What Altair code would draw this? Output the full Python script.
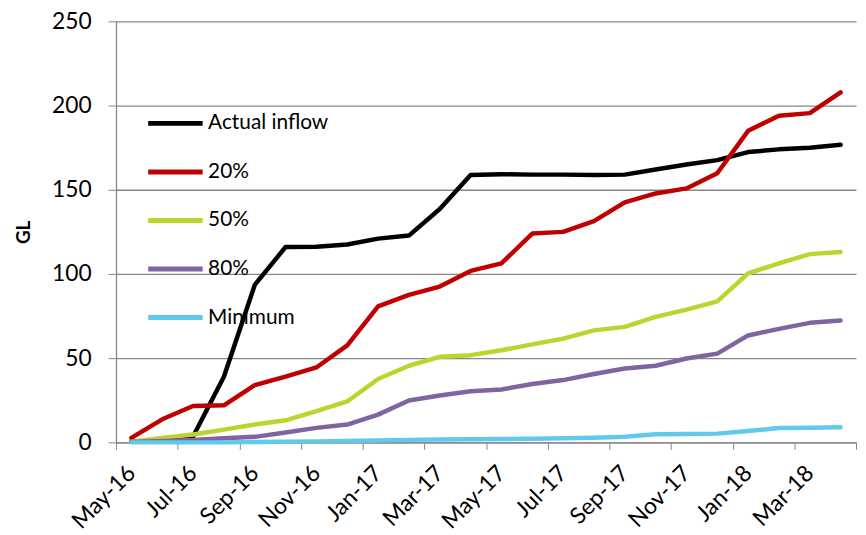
import altair as alt
import pandas as pd

months = ["May-16","Jun-16","Jul-16","Aug-16","Sep-16","Oct-16","Nov-16","Dec-16",
          "Jan-17","Feb-17","Mar-17","Apr-17","May-17","Jun-17","Jul-17","Aug-17",
          "Sep-17","Oct-17","Nov-17","Dec-17","Jan-18","Feb-18","Mar-18","Apr-18"]
tick_labels = ["May-16","Jul-16","Sep-16","Nov-16","Jan-17","Mar-17",
               "May-17","Jul-17","Sep-17","Nov-17","Jan-18","Mar-18"]

actual = [0.5, 1.0, 3.5, 39, 93.5, 116, 116.2, 117.5, 121, 122.8, 138.6, 158.8,
          159.2, 159, 159, 158.8, 159, 162, 165, 167.6, 172.4, 174, 175, 176.7]
p20 = [2.7, 13.7, 21.6, 22, 34, 39, 44.5, 57.6, 80.8, 87.6, 92.5, 101.8,
       106.3, 124, 125, 131.4, 142.5, 147.8, 150.8, 159.8, 185, 194, 195.5, 207.8]
p50 = [0.4, 2.7, 4.7, 7.6, 10.6, 13.1, 18.6, 24.3, 37.6, 45.5, 50.8, 51.8,
       54.7, 58.2, 61.6, 66.5, 68.6, 74.5, 78.8, 83.7, 100.4, 106.3, 111.8, 113.1]
p80 = [0.3, 0.8, 1.4, 2.4, 3.3, 5.9, 8.6, 10.6, 16.5, 24.9, 27.8, 30.4,
       31.4, 34.7, 37, 40.6, 43.9, 45.5, 49.8, 52.7, 63.5, 67.4, 71, 72.4]
minimum = [0, 0, 0, 0, 0.2, 0.4, 0.6, 0.8, 1.2, 1.5, 1.7, 1.9,
           2.0, 2.2, 2.4, 2.8, 3.4, 4.8, 5.0, 5.2, 6.8, 8.5, 8.7, 9.0]

series_names = ["Actual inflow", "20%", "50%", "80%", "Minimum"]
series_values = [actual, p20, p50, p80, minimum]
series_colors = ["#000000", "#C00000", "#BFD32E", "#8064A2", "#5FCAEA"]

rows = []
for name, vals in zip(series_names, series_values):
    for i, (m, v) in enumerate(zip(months, vals)):
        rows.append({"series": name, "idx": i, "month": m, "GL": v})
df = pd.DataFrame(rows)

FONT = "Lato"
label_arr = "[" + ",".join("'%s'" % t for t in tick_labels) + "]"
tick_vals = [k - 0.5 for k in range(0, len(months) + 1, 2)]
label_expr = ("(datum.value + 0.5) / 2 < %d ? %s[(datum.value + 0.5) / 2] : ''"
              % (len(tick_labels), label_arr))

chart = alt.Chart(df).mark_line(strokeWidth=4.5, strokeCap="round", strokeJoin="round").encode(
    x=alt.X("idx:Q",
            scale=alt.Scale(domain=[-0.5, len(months) - 0.5], nice=False, zero=False),
            axis=alt.Axis(values=tick_vals, labelExpr=label_expr, labelOffset=15.5,
                          labelAngle=-45, labelAlign="right", labelBaseline="middle",
                          labelPadding=20, tickSize=7, grid=False, title=None,
                          labelFontSize=23, labelFont=FONT, labelColor="#000000",
                          domainColor="#868686", tickColor="#868686", domainWidth=1.3,
                          labelOverlap=False, labelBound=False, labelFlush=False)),
    y=alt.Y("GL:Q",
            scale=alt.Scale(domain=[0, 250], nice=False),
            axis=alt.Axis(values=[0, 50, 100, 150, 200, 250], tickSize=8, labelPadding=17,
                          title="GL", titleFont=FONT, titleFontSize=19, titleFontWeight="bold",
                          titleColor="#000000", titlePadding=18,
                          labelFontSize=23, labelFont=FONT, labelColor="#000000",
                          gridColor="#868686", gridWidth=1.3, domainColor="#868686",
                          domainWidth=1.3, tickColor="#868686")),
    color=alt.Color("series:N",
                    scale=alt.Scale(domain=series_names, range=series_colors),
                    legend=alt.Legend(title=None, orient="none", legendX=30, legendY=73,
                                      symbolType="stroke", symbolSize=3025,
                                      symbolStrokeWidth=5, rowPadding=9,
                                      labelFont=FONT, labelFontSize=21, labelColor="#000000",
                                      labelOffset=3)),
    order=alt.Order("idx:Q"),
).properties(
    width=747, height=425,
    autosize=alt.AutoSizeParams(type="none"),
    padding={"left": 109, "top": 11, "right": 2, "bottom": 91},
).configure_view(stroke=None)

chart.save("out.html", embed_options={"renderer": "svg", "actions": False})
